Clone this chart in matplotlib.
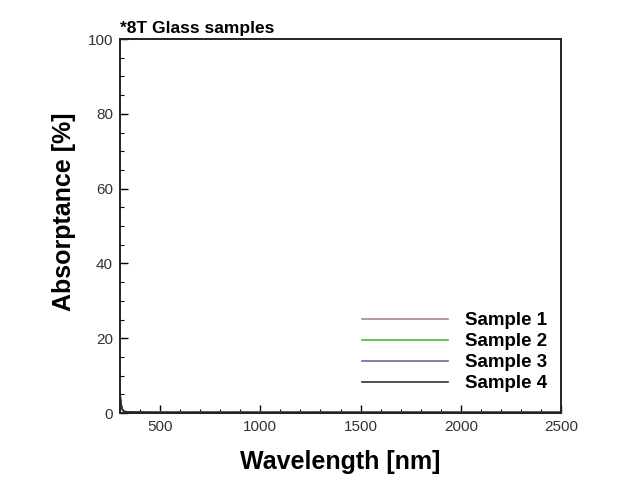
import numpy as np
import matplotlib.pyplot as plt
from matplotlib.ticker import MultipleLocator

plt.rcParams['font.family'] = ['Liberation Sans', 'DejaVu Sans']

wavelength = [300, 303, 306, 310, 315, 320, 330, 350, 400, 500, 700, 1000, 1500, 2000, 2500]
sample1 = [4.8, 3.6, 2.2, 1.2, 0.7, 0.5, 0.35, 0.3, 0.25, 0.2, 0.2, 0.2, 0.2, 0.2, 0.2]
sample2 = [4.5, 3.3, 2.0, 1.1, 0.6, 0.45, 0.3, 0.25, 0.2, 0.2, 0.2, 0.2, 0.2, 0.2, 0.2]
sample3 = [4.6, 3.4, 2.1, 1.1, 0.65, 0.45, 0.3, 0.25, 0.2, 0.2, 0.2, 0.2, 0.2, 0.2, 0.2]
sample4 = [4.7, 3.5, 2.1, 1.2, 0.7, 0.5, 0.35, 0.3, 0.25, 0.2, 0.2, 0.2, 0.2, 0.2, 0.2]
labels = ['Sample 1', 'Sample 2', 'Sample 3', 'Sample 4']
colors = ['#a88888', '#44bb44', '#6a6aa8', '#333333']

fig = plt.figure(figsize=(6.22, 4.82), dpi=100)
ax = fig.add_axes([0.193, 0.143, 0.709, 0.776])

for ys, lab, c in zip([sample1, sample2, sample3, sample4], labels, colors):
    ax.plot(wavelength, ys, color=c, lw=1.2, label=lab)

ax.set_xlim(300, 2500)
ax.set_ylim(0, 100)
ax.set_xticks([500, 1000, 1500, 2000, 2500])
ax.set_yticks([0, 20, 40, 60, 80, 100])
ax.xaxis.set_minor_locator(MultipleLocator(100))
ax.yaxis.set_minor_locator(MultipleLocator(5))
ax.tick_params(which='major', direction='in', length=6, width=1, labelsize=11,
               labelcolor='#333333', pad=5)
ax.tick_params(which='minor', direction='in', length=3, width=0.8)
for sp in ax.spines.values():
    sp.set_linewidth(1.4)
    sp.set_color('#222222')

ax.set_xlabel('Wavelength [nm]', fontsize=18, fontweight='bold', labelpad=11.5)
ax.set_ylabel('Absorptance [%]', fontsize=18, fontweight='bold')
ax.yaxis.set_label_coords(-0.100, 0.537)
ax.set_title('*8T Glass samples', fontsize=12.5, fontweight='bold', loc='left', pad=4)

leg = ax.legend(loc='lower right', bbox_to_anchor=(1.006, 0.011), frameon=False,
                handlelength=4.6, handletextpad=0.9, labelspacing=0.2,
                borderaxespad=0.5, prop={'size': 13.5, 'weight': 'bold'})

fig.savefig('out.png', dpi=100)
